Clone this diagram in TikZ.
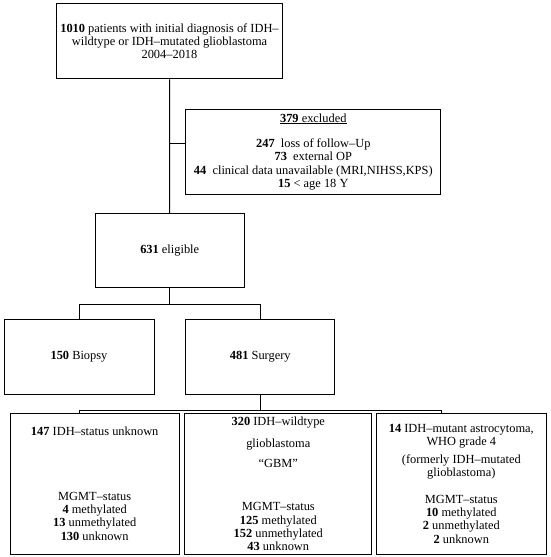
\documentclass[tikz,border=0pt]{standalone}
\usepackage{fontspec}
\setmainfont{Liberation Serif}
\begin{document}
\begin{tikzpicture}[x=1pt,y=-1pt,
  box/.style={draw,line width=1pt,align=center,inner sep=2pt,font=\fontsize{12.4}{13.2}\selectfont},
  link/.style={line width=1pt}]
\useasboundingbox (0,0) rectangle (550,557);
\node[box,minimum width=226pt,minimum height=75pt] (total) at (169.5,41.3) {\textbf{1010} patients with initial diagnosis of IDH–\\wildtype or IDH–mutated glioblastoma\\2004–2018};
\node[box,minimum width=255pt,minimum height=85pt] (excl) at (313.3,151.7) {\underline{\textbf{379} excluded}\\[12.5pt]\textbf{247}\ \ loss of follow–Up\\\textbf{73}\ \ external OP\\\textbf{44}\ \ clinical data unavailable (MRI,NIHSS,KPS)\\\textbf{15} < age 18 Y};
\node[box,minimum width=149pt,minimum height=74.4pt] (elig) at (169.7,250.5) {\textbf{631} eligible};
\node[box,minimum width=150pt,minimum height=74.7pt] (biopsy) at (79,356.7) {\textbf{150} Biopsy};
\node[box,minimum width=149.3pt,minimum height=74.7pt] (surgery) at (260.3,356.7) {\textbf{481} Surgery};
\node[box,minimum width=169.3pt,minimum height=140.7pt] (unk) at (94.7,483.7) {\textbf{147} IDH–status unknown\\[51.5pt]MGMT–status\\\textbf{4} methylated\\\textbf{13} unmethylated\\\textbf{130} unknown};
\node[box,minimum width=186.7pt,minimum height=140.7pt] (wt) at (278.3,483.7) {\textbf{320} IDH–wildtype\\[8.5pt]glioblastoma\\[7pt]“GBM”\\[30.5pt]MGMT–status\\\textbf{125} methylated\\\textbf{152} unmethylated\\\textbf{43} unknown};
\node[box,minimum width=169.5pt,minimum height=140.7pt] (mut) at (461.3,483.7) {\textbf{14} IDH–mutant astrocytoma,\\WHO grade 4\\[5pt](formerly IDH–mutated\\glioblastoma)\\[13.5pt]MGMT–status\\\textbf{10} methylated\\\textbf{2} unmethylated\\\textbf{2} unknown};
\coordinate (exjoin) at (170,143.3);
\coordinate (elsplit) at (170,304.3);
\coordinate (busL) at (79,410.3);
\coordinate (busR) at (441.7,410.3);
\draw[link] (total.south) -- (elig.north);
\draw[link] (exjoin) -- (exjoin -| excl.west);
\draw[link] (elig.south) -- (elig.south |- elsplit);
\draw[link] (biopsy.north) |- (elsplit) -| (surgery.north);
\draw[link] (surgery.south) -- (surgery.south |- busL);
\draw[link] (busL |- unk.north) -- (busL) -- (busR) -- (busR |- mut.north);
\end{tikzpicture}
\end{document}
